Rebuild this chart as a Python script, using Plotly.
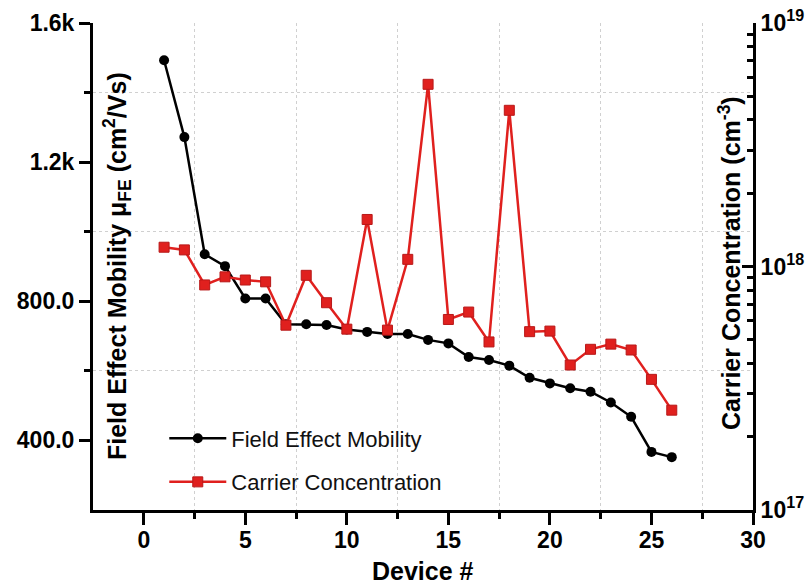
import plotly.graph_objects as go

device = list(range(1, 27))
mobility = [1493, 1272, 935, 901, 808, 808, 734, 734, 732, 719, 712, 706, 706, 689,
            679, 640, 631, 615, 580, 564, 550, 540, 509, 468, 367, 352]
carrier = [1.20e18, 1.17e18, 8.4e17, 9.07e17, 8.8e17, 8.65e17, 5.74e17, 9.2e17, 7.1e17,
           5.53e17, 1.56e18, 5.48e17, 1.07e18, 5.6e18, 6.06e17, 6.5e17, 4.9e17, 4.38e18,
           5.4e17, 5.43e17, 3.94e17, 4.57e17, 4.8e17, 4.54e17, 3.44e17, 2.57e17]

left_ticks = [400, 800, 1200, 1600]
left_labels = ["400.0", "800.0", "1.2k", "1.6k"]
right_ticks = [1e17, 1e18, 1e19]
right_labels = ["10<sup>17</sup>", "10<sup>18</sup>", "10<sup>19</sup>"]
x_ticks = [0, 5, 10, 15, 20, 25, 30]

FONT = "Arial, Liberation Sans, sans-serif"
RED = "#e0201e"
GRID = "#d0d0d0"
TICKFONT = dict(size=23, family=FONT, weight="bold", color="black")
TITLEFONT = dict(size=25, family=FONT, weight="bold", color="black")

fig = go.Figure()
fig.add_trace(go.Scatter(
    x=device, y=mobility, name="Field Effect Mobility", mode="lines+markers",
    line=dict(color="black", width=2.5),
    marker=dict(symbol="circle", size=10, color="black"),
    legendgroup="a", xaxis="x", yaxis="y"))
fig.add_trace(go.Scatter(
    x=device, y=carrier, name="Carrier Concentration", mode="lines+markers",
    line=dict(color=RED, width=2.5),
    marker=dict(symbol="square", size=10, color=RED, line=dict(color="#b81818", width=1)),
    legendgroup="b", xaxis="x", yaxis="y2"))

x_minor = [2.5 + 5 * k for k in range(6)]
y_minor = [600, 1000, 1400]
r_minor = [m * 10 ** e for e in (17, 18) for m in range(2, 10)]

fig.update_layout(
    width=809, height=585,
    margin=dict(l=93, r=56, t=23, b=75, pad=0, autoexpand=False),
    paper_bgcolor="white", plot_bgcolor="white",
    font=dict(family=FONT, color="black"),
    showlegend=True,
    legend=dict(x=0.108, y=0.19, xanchor="left", yanchor="top",
                bgcolor="rgba(0,0,0,0)", font=dict(size=22, family=FONT, color="#111111"),
                tracegroupgap=12, itemwidth=57),
    xaxis=dict(
        range=[-2.5, 30], tickvals=x_ticks, ticks="outside", ticklen=12, tickwidth=2.5,
        tickcolor="black", showline=True, linewidth=3, linecolor="black",
        showgrid=False, zeroline=False, tickfont=TICKFONT, automargin=False,
        ticklabelstandoff=-5,
        minor=dict(tickvals=x_minor, ticks="outside", ticklen=6, tickwidth=2.5,
                   tickcolor="black", showgrid=True, gridcolor=GRID, griddash="dot",
                   gridwidth=1),
    ),
    xaxis2=dict(
        range=[-2.5, 30], overlaying="x", side="top", anchor="y", automargin=False,
        tickvals=x_ticks, ticks="inside", ticklen=11, tickwidth=2.5, tickcolor="black",
        showticklabels=False, showline=True, linewidth=3, linecolor="black",
        showgrid=False, zeroline=False,
        minor=dict(tickvals=x_minor, ticks="inside", ticklen=5, tickwidth=2.5,
                   tickcolor="black", showgrid=False),
    ),
    yaxis=dict(
        range=[200, 1600], tickvals=left_ticks, ticktext=left_labels,
        ticks="outside", ticklen=11, tickwidth=2.5, tickcolor="black", automargin=False,
        showline=True, linewidth=3, linecolor="black", showgrid=False, zeroline=False,
        tickfont=TICKFONT,
        minor=dict(tickvals=y_minor, ticks="outside", ticklen=6, tickwidth=2.5,
                   tickcolor="black", showgrid=True, gridcolor=GRID, griddash="dot",
                   gridwidth=1),
    ),
    yaxis2=dict(
        type="log", range=[17, 19], overlaying="y", side="right", anchor="x",
        tickvals=right_ticks, ticktext=right_labels, automargin=False,
        ticks="inside", ticklen=11, tickwidth=2.5, tickcolor="black",
        showline=True, linewidth=3, linecolor="black", showgrid=False, zeroline=False,
        tickfont=TICKFONT,
        minor=dict(tickvals=r_minor, ticks="inside", ticklen=6, tickwidth=2.5,
                   tickcolor="black", showgrid=False),
    ),
    annotations=[
        dict(text="Device #", x=0.5, y=-0.125, xref="paper", yref="paper",
             xanchor="center", yanchor="middle", showarrow=False, font=TITLEFONT),
        dict(text="Field Effect Mobility μ<sub>FE</sub> (cm<sup>2</sup>/Vs)",
             x=0.0364, y=0.501, xref="paper", yref="paper", textangle=-90,
             xanchor="center", yanchor="middle", showarrow=False, font=TITLEFONT),
        dict(text="Carrier Concentration (cm<sup>-3</sup>)",
             x=0.965, y=0.507, xref="paper", yref="paper", textangle=-90,
             xanchor="center", yanchor="middle", showarrow=False, font=TITLEFONT),
    ],
)

fig.write_html("out.html")
